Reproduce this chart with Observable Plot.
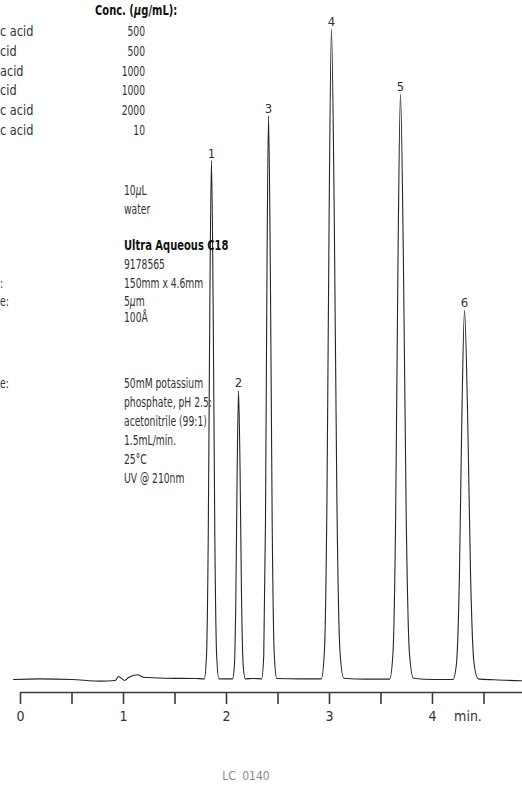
<!DOCTYPE html>
<html><head><meta charset="utf-8">
<script src="https://cdn.jsdelivr.net/npm/d3@7"></script>
<script src="https://cdn.jsdelivr.net/npm/@observablehq/plot@0.6"></script>
<style>
body{margin:0;background:#fff;}
#wrap{position:relative;width:522px;height:788px;overflow:hidden;background:#fff;
  font-family:"DejaVu Sans Condensed","Liberation Sans Narrow",sans-serif;color:#333;}
#chart{position:absolute;left:0;top:0;}
.t{position:absolute;white-space:nowrap;font-size:14px;line-height:16px;transform:scaleX(0.73);transform-origin:left center;}
.t.r{transform-origin:right center;text-align:right;}
.t.f{transform:scaleX(0.9);}
.t.b{font-weight:bold;color:#111;transform:scaleX(0.79);}
#cap{position:absolute;left:0;width:492px;top:769px;text-align:center;font-size:12px;line-height:14px;color:#8a8a8a;word-spacing:3px;}
</style></head>
<body><div id="wrap"><div id="chart"></div><div id="cap"></div></div>
<script>
// ---- data ----
const peakNumbers = ["1","2","3","4","5","6"];
const peakTimes   = [1.854, 2.117, 2.408, 3.019, 3.689, 4.311];
const peakHeights = [79.7, 44.4, 86.6, 100, 90.0, 56.7];

const traceTime = [
  -0.068, 0.19, 0.50, 0.78, 0.92, 0.951, 1.010, 1.049, 1.136, 1.194, 1.40, 1.70,
  1.784, 1.8055, 1.823, 1.8385, 1.854, 1.8703, 1.8866, 1.905, 1.927, 1.99,
  2.058, 2.076, 2.0906, 2.1038, 2.117, 2.1317, 2.1464, 2.163, 2.183, 2.26,
  2.3416, 2.3619, 2.3785, 2.3932, 2.408, 2.4258, 2.4437, 2.4638, 2.4883, 2.70,
  2.921, 2.951, 2.9755, 2.9972, 3.019, 3.0454, 3.0718, 3.1015, 3.138, 3.36,
  3.584, 3.6162, 3.6424, 3.6657, 3.689, 3.717, 3.745, 3.7765, 3.815, 4.01,
  4.199, 4.2333, 4.2613, 4.2861, 4.311, 4.3405, 4.370, 4.4033, 4.444, 4.60, 4.874
];
const traceSignal = [
  0, 0.1, 0, -0.25, -0.15, 0.46, -0.15, 0.3, 0.72, 0.35, 0.2, 0.15,
  0.1, 3.5, 22.2, 57.9, 79.7, 57.9, 22.2, 3.5, 0.1, 0.1,
  0.1, 1.95, 12.3, 32.2, 44.4, 32.2, 12.3, 1.95, 0.1, 0.15,
  0.1, 3.8, 24.1, 62.9, 86.6, 62.9, 24.1, 3.8, 0.15, 0.1,
  0.1, 4.4, 27.8, 72.6, 100, 72.6, 27.8, 4.4, 0.2, 0.05,
  0.05, 4.0, 25.0, 65.3, 90.0, 65.3, 25.0, 4.0, 0.2, 0.0,
  0.0, 2.5, 15.8, 41.2, 56.7, 41.2, 15.8, 2.5, 0.1, -0.05, -0.2
];

const majorTicks = [0, 1, 2, 3, 4];
const minorTicks = [0.5, 1.5, 2.5, 3.5, 4.5];
const unitLabel = "min.";
const unitTick = 4.21;

const concHeader = "Conc. (μg/mL):";
const compoundTails = ["c acid", "cid", "acid", "cid", "c acid", "c acid"];
const concentrations = ["500", "500", "1000", "1000", "2000", "10"];
const sampleLines = ["10μL", "water"];
const columnName = "Ultra Aqueous C18";
const columnLines = ["9178565", "150mm x 4.6mm", "5μm", "100Å"];
const columnLabelTails = ["", ":", "e:", ""];
const conditionLines = ["50mM potassium", "phosphate, pH 2.5:", "acetonitrile (99:1)", "1.5mL/min.", "25°C", "UV @ 210nm"];
const conditionLabelTails = ["e:", "", "", "", "", ""];
const caption = "LC 0140";

// ---- chart ----
const trace = traceTime.map((t, i) => ({t, v: traceSignal[i]}));
const peaks = peakNumbers.map((n, i) => ({n, t: peakTimes[i], v: peakHeights[i]}));
const font = '"DejaVu Sans Condensed","Liberation Sans Narrow",sans-serif';

const chart = Plot.plot({
  width: 522, height: 740,
  marginLeft: 20, marginRight: 0, marginTop: 28, marginBottom: 48,
  x: {domain: [0, 4.874]},
  y: {domain: [-2, 100], axis: null},
  style: {fontFamily: font, color: "#333", background: "transparent", overflow: "visible"},
  marks: [
    Plot.ruleY([-2], {stroke: "#3a3a3a", strokeWidth: 1.6}),
    Plot.axisX({ticks: [...majorTicks, ...minorTicks], tickSize: 12, tickFormat: () => "", stroke: "#3a3a3a", strokeWidth: 1.6, label: null}),
    Plot.axisX({ticks: majorTicks, tickSize: 0, tickPadding: 19, fontSize: 14, fill: "#333", tickFormat: d => String(d), label: null}),
    Plot.axisX({ticks: [unitTick], tickSize: 0, tickPadding: 19, fontSize: 14, fill: "#333", textAnchor: "start", tickFormat: () => unitLabel, label: null}),
    Plot.line(trace, {x: "t", y: "v", curve: "monotone-x", stroke: "#262626", strokeWidth: 1.1}),
    Plot.text(peaks, {x: "t", y: "v", text: "n", lineAnchor: "bottom", dy: -3, fontSize: 13, fill: "#333"})
  ]
});
document.getElementById("chart").appendChild(chart);

// ---- text blocks ----
const wrap = document.getElementById("wrap");
function fmt(s) { return s.replace(/μ/g, '<i>μ</i>'); }
function addLine(text, cy, opts = {}) {
  const d = document.createElement("div");
  d.className = "t" + (opts.bold ? " b" : "") + (opts.right != null ? " r" : "") + (opts.frag ? " f" : "");
  d.innerHTML = fmt(text);
  d.style.top = (cy - 8) + "px";
  if (opts.right != null) d.style.right = (522 - opts.right) + "px";
  else d.style.left = (opts.left || 0) + "px";
  wrap.appendChild(d);
}
addLine(concHeader, 10, {left: 95, bold: true});
compoundTails.forEach((s, i) => addLine(s, 31 + i * 19.8, {left: 0, frag: true}));
concentrations.forEach((s, i) => addLine(s, 31 + i * 19.8, {right: 145}));
sampleLines.forEach((s, i) => addLine(s, 190 + i * 18.5, {left: 124}));
addLine(columnName, 245, {left: 124, bold: true});
columnLines.forEach((s, i) => addLine(s, 264 + i * 18.5 - (i === 3 ? 3 : 0), {left: 124}));
columnLabelTails.forEach((s, i) => { if (s) addLine(s, 264 + i * 18.5, {left: 0}); });
conditionLines.forEach((s, i) => addLine(s, 383 + i * 19, {left: 124}));
conditionLabelTails.forEach((s, i) => { if (s) addLine(s, 383 + i * 19, {left: 0}); });
document.getElementById("cap").textContent = caption;
</script>
</body></html>
